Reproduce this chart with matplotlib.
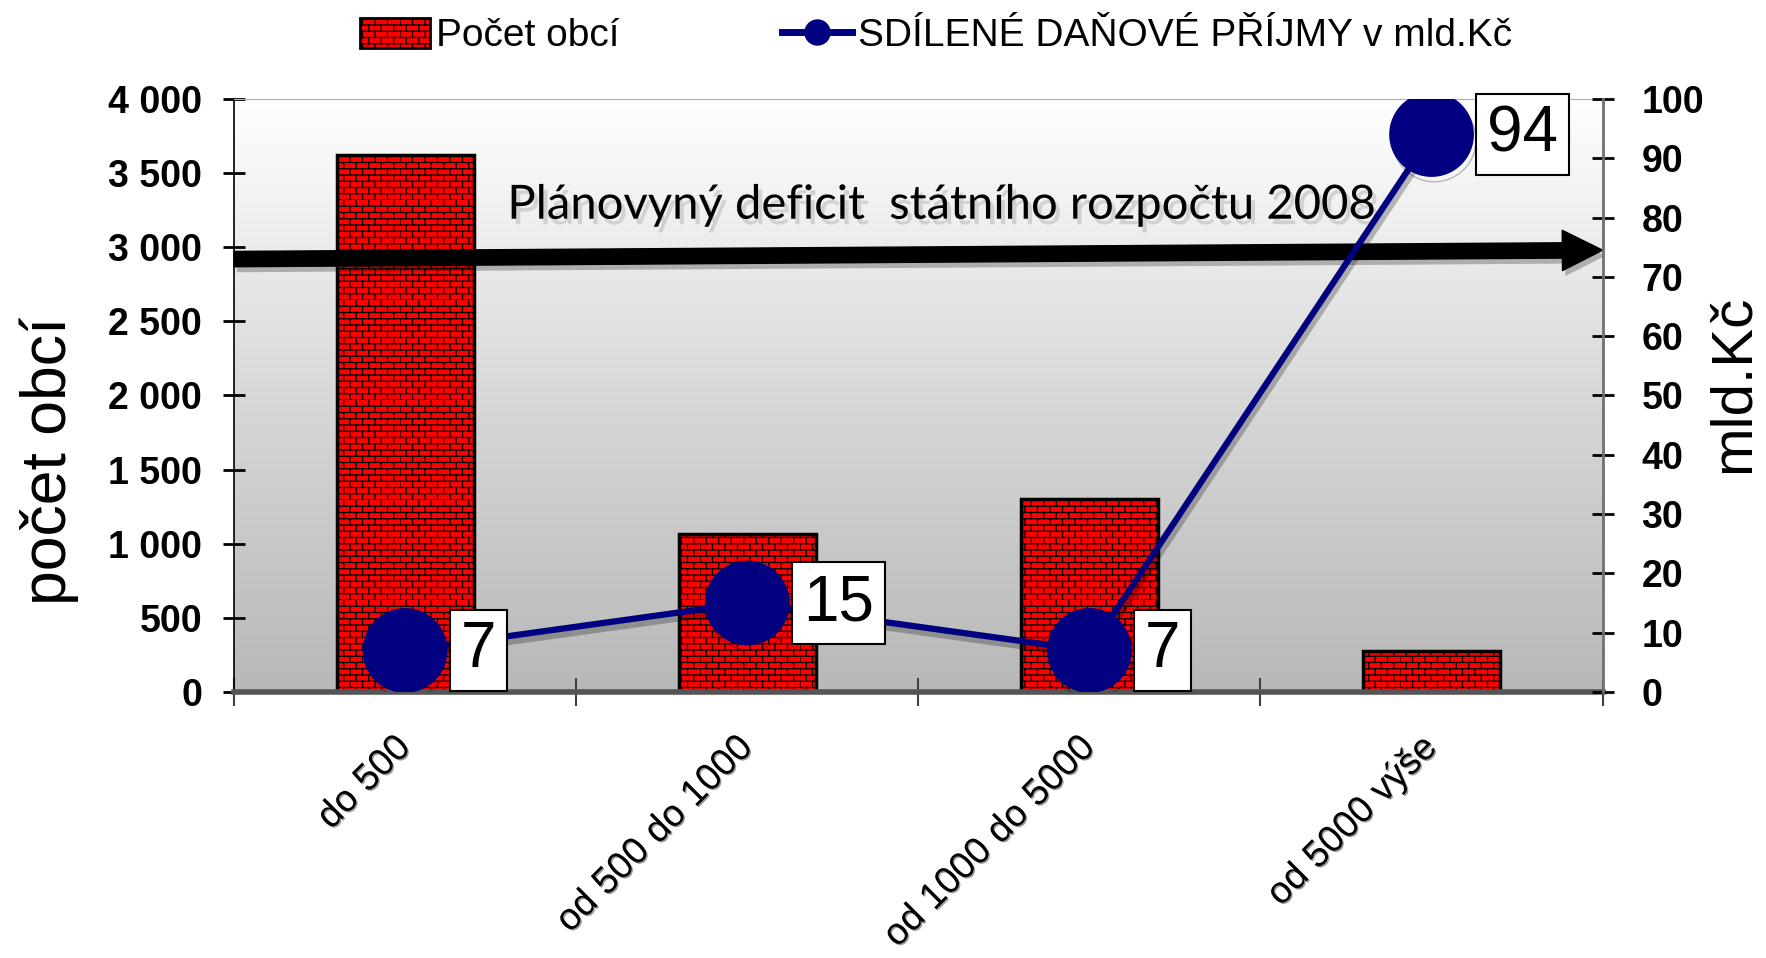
import numpy as np
import matplotlib
matplotlib.use('Agg')
import matplotlib.pyplot as plt
import matplotlib.hatch as mhatch
import matplotlib.patheffects as pe
from matplotlib.path import Path
from matplotlib.patches import Patch, FancyArrowPatch, ArrowStyle
from matplotlib.lines import Line2D
from matplotlib.colors import LinearSegmentedColormap
from matplotlib.ticker import FuncFormatter, MultipleLocator, FixedLocator

# data
categories = ['do 500', 'od 500 do 1000', 'od 1000 do 5000', 'od 5000 výše']
pocet_obci = [3625, 1065, 1300, 275]
prijmy_mld = [7, 15, 7, 94]
deficit_start, deficit_end = 73, 74.5   # arrow level on the mld.Kč axis
deficit_text = 'Plánovyný deficit  státního rozpočtu 2008'
bar_label = 'Počet obcí'
line_label = 'SDÍLENÉ DAŇOVÉ PŘÍJMY v mld.Kč'


# brick hatch (rows offset by half a brick), triggered by '+'
class BrickHatch:
    rows = 16
    bricks = 8

    def __init__(self, hatch, density):
        if '+' in hatch:
            self.num_vertices = self.rows * 2 + self.rows * self.bricks * 2
        else:
            self.num_vertices = 0

    def set_vertices_and_codes(self, vertices, codes):
        n = self.rows
        ys = np.arange(n) / n
        vertices[0:2 * n:2] = np.column_stack([np.zeros(n), ys])
        vertices[1:2 * n:2] = np.column_stack([np.ones(n), ys])
        i = 2 * n
        for r in range(n):
            off = 0.5 / self.bricks if r % 2 else 0.0
            for k in range(self.bricks):
                x = k / self.bricks + off
                vertices[i] = (x, ys[r])
                vertices[i + 1] = (x, ys[r] + 1.0 / n)
                i += 2
        codes[0::2] = Path.MOVETO
        codes[1::2] = Path.LINETO


mhatch._hatch_types = [BrickHatch]

plt.rcParams['font.family'] = ['Liberation Sans', 'DejaVu Sans']
plt.rcParams['hatch.linewidth'] = 0.9

fig = plt.figure(figsize=(17.66, 9.58), dpi=100)
ax = fig.add_axes([0.1325, 0.2777, 0.775, 0.619])
ax2 = ax.twinx()

x = np.arange(len(categories))

# background gradient
cmap = LinearSegmentedColormap.from_list('bg', ['#b8b8b8', '#d8d8d8', '#ffffff'])
grad = np.linspace(1, 0, 256).reshape(-1, 1)
ax.imshow(grad, extent=[-0.5, 3.5, 0, 4000], aspect='auto', cmap=cmap,
          zorder=0, interpolation='bicubic')

ax.bar(x, pocet_obci, width=0.4, color='#ff0000', edgecolor='black',
       linewidth=2.5, hatch='+', zorder=2)

ax.set_xlim(-0.5, 3.5)
ax.set_ylim(0, 4000)
ax.yaxis.set_major_locator(MultipleLocator(500))
ax.yaxis.set_major_formatter(FuncFormatter(lambda v, p: f'{v:,.0f}'.replace(',', ' ')))
ax.set_xticks(x)
ax.set_xticklabels(categories, rotation=45, ha='right', va='center',
                   rotation_mode='anchor', fontsize=27)
for lab in ax.get_xticklabels():
    lab.set_path_effects([pe.withSimplePatchShadow(offset=(1, -1), alpha=0.4)])
ax.xaxis.set_minor_locator(FixedLocator([-0.5, 0.5, 1.5, 2.5, 3.5]))
ax.tick_params(axis='x', which='major', length=0, pad=36)
ax.tick_params(axis='x', which='minor', direction='inout', length=20, width=1.5, color='#404040')
ax.tick_params(axis='y', direction='inout', length=16, width=2, pad=15, labelsize=27)
for lab in ax.get_yticklabels():
    lab.set_fontweight('bold')

ax.spines['left'].set_color('black')
ax.spines['left'].set_linewidth(1.2)
ax.spines['bottom'].set_color('#555555')
ax.spines['bottom'].set_linewidth(4)
ax.spines['top'].set_color('#b0b0b0')
ax.spines['right'].set_visible(False)
ax2.spines['right'].set_color('#707070')
ax2.spines['right'].set_linewidth(2)
for s in ['left', 'top', 'bottom']:
    ax2.spines[s].set_visible(False)

ax.set_ylabel('počet obcí', fontsize=45)
ax.yaxis.set_label_coords(-0.113, 0.39)

# secondary axis
ax2.set_ylim(0, 100)
ax2.yaxis.set_major_locator(MultipleLocator(10))
ax2.tick_params(axis='y', direction='inout', length=16, width=2, pad=20, labelsize=27)
for lab in ax2.get_yticklabels():
    lab.set_fontweight('bold')
ax2.set_ylabel('mld.Kč', fontsize=42, rotation=90)
ax2.yaxis.set_label_coords(1.076, 0.52)

# deficit arrow
arrow = FancyArrowPatch((-0.5, deficit_start), (3.5, deficit_end),
                        arrowstyle=ArrowStyle.Simple(head_length=1.0, head_width=1.0, tail_width=0.38),
                        mutation_scale=29, color='black', shrinkA=0, shrinkB=0, zorder=2,
                        clip_on=False)
arrow.set_path_effects([pe.SimplePatchShadow(offset=(2, -4), alpha=0.25), pe.Normal()])
ax2.add_patch(arrow)
ax2.text(1.57, 82, deficit_text, family=['Lato', 'DejaVu Sans'], fontsize=34,
         ha='center', va='center', zorder=2, color='black',
         path_effects=[pe.SimplePatchShadow(offset=(3, -4), shadow_rgbFace='#999999', alpha=0.35),
                       pe.Normal()])

# line with markers
ax2.plot(x, prijmy_mld, color='#000080', lw=4.5, marker='o', markersize=60,
         zorder=3, path_effects=[pe.SimpleLineShadow(offset=(2, -4), alpha=0.25), pe.Normal()])

for xi, v in zip(x, prijmy_mld):
    ax2.annotate(str(v), (xi, v), xytext=(40, 0), textcoords='offset points',
                 ha='left', va='center', fontsize=46, zorder=4,
                 bbox=dict(boxstyle='square,pad=0.17', facecolor='white',
                           edgecolor='black', linewidth=1.5))

# legend
handles = [Patch(facecolor='#ff0000', edgecolor='black', hatch='+', linewidth=2),
           Line2D([], [], color='#000080', lw=5, marker='o', markersize=18)]
fig.legend(handles, [bar_label, line_label], loc='upper center', ncol=2,
           bbox_to_anchor=(0.53, 1.018), frameon=False, fontsize=28,
           handlelength=1.8, handleheight=0.8, handletextpad=0.15, columnspacing=4.2)

fig.savefig('out.png', dpi=100)
